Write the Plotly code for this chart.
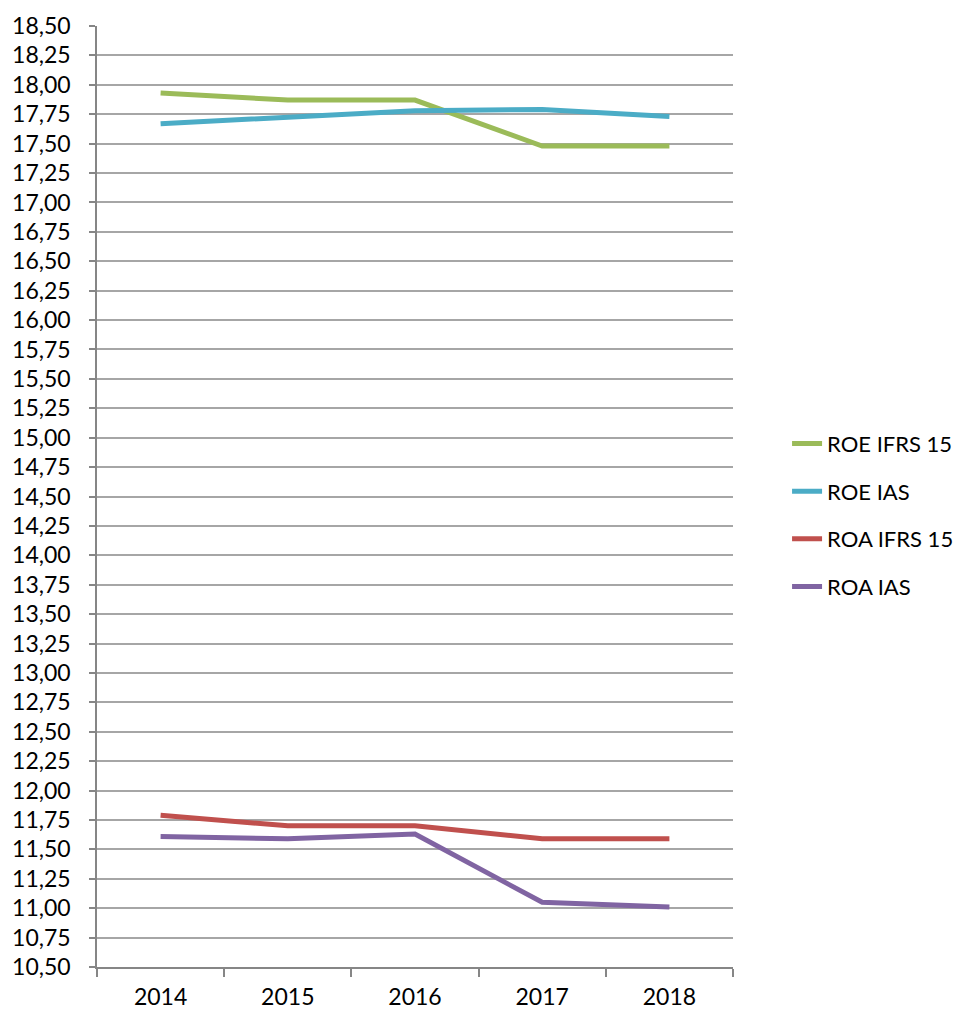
import plotly.graph_objects as go

years = ["2014", "2015", "2016", "2017", "2018"]
roe_ifrs15 = [17.93, 17.87, 17.87, 17.48, 17.48]
roe_ias = [17.67, 17.72, 17.78, 17.79, 17.73]
roa_ifrs15 = [11.79, 11.70, 11.70, 11.59, 11.59]
roa_ias = [11.61, 11.59, 11.63, 11.05, 11.01]

series = [
    ("ROE IFRS 15", roe_ifrs15, "#9BBB59"),
    ("ROE IAS", roe_ias, "#4BACC6"),
    ("ROA IFRS 15", roa_ifrs15, "#C0504D"),
    ("ROA IAS", roa_ias, "#8064A2"),
]

font_family = "Lato, 'Open Sans', sans-serif"

fig = go.Figure()
for name, vals, color in series:
    fig.add_trace(go.Scatter(
        x=years, y=vals, name=name, mode="lines",
        line=dict(color=color, width=5),
        legendgroup=name,
    ))

fig.update_layout(
    width=963, height=1012,
    margin=dict(l=97, r=230, t=26, b=45, autoexpand=False),
    paper_bgcolor="white", plot_bgcolor="white",
    separators=",.",
    font=dict(family=font_family, size=23, color="#000000"),
    showlegend=True,
    legend=dict(
        x=1.085, y=0.48, xanchor="left", yanchor="middle",
        font=dict(size=22), tracegroupgap=16,
        bgcolor="rgba(0,0,0,0)",
    ),
    xaxis=dict(
        type="category", tickson="boundaries", ticks="outside",
        ticklen=8, tickcolor="#868686", tickwidth=1.5,
        showline=True, linecolor="#868686", linewidth=1.5,
        showgrid=False, zeroline=False, ticklabelstandoff=9,
        automargin=False,
        tickfont=dict(size=23), range=[-0.5, 4.5],
    ),
    yaxis=dict(
        range=[10.5, 18.5], dtick=0.25, tick0=10.5, tickformat=".2f",
        ticks="outside", ticklen=6, tickcolor="#868686", tickwidth=1.5,
        showline=True, linecolor="#868686", linewidth=1.5,
        showgrid=True, gridcolor="#A6A6A6", gridwidth=1.5,
        zeroline=False, ticklabelstandoff=14, automargin=False,
        tickfont=dict(size=23),
    ),
)

fig.write_html("out.html")
